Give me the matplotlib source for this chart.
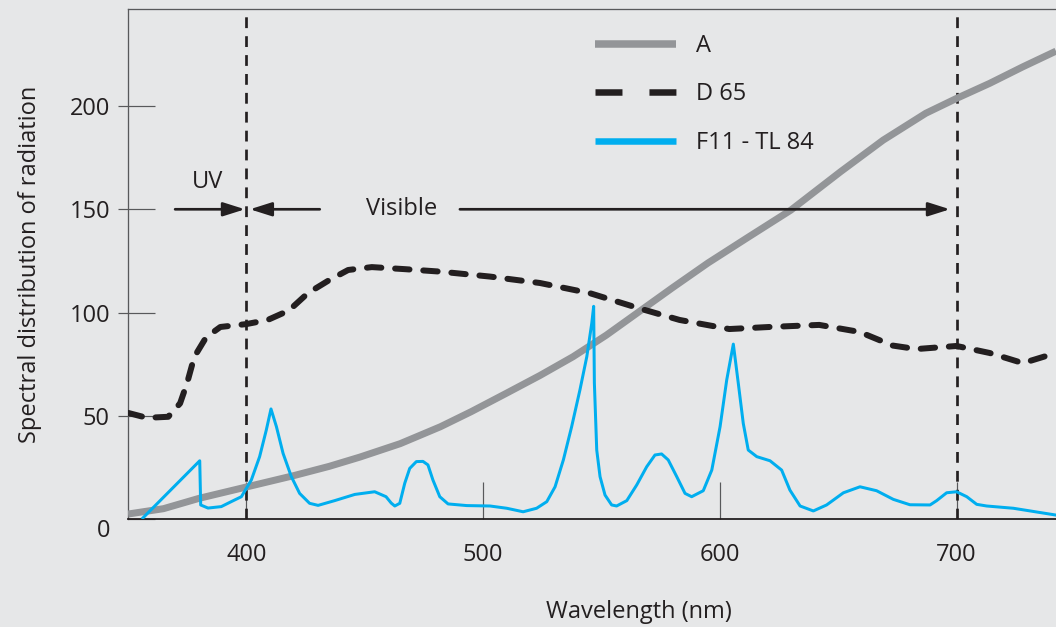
import matplotlib.pyplot as plt
from matplotlib.lines import Line2D
from matplotlib.patches import FancyArrowPatch
from matplotlib.ticker import FixedLocator
from matplotlib.transforms import ScaledTranslation

plt.rcParams['font.family'] = ['Open Sans', 'DejaVu Sans']

# Illuminant A (incandescent)
a_wl = [350, 365, 380, 400, 420, 435, 448, 465, 482, 495, 510, 524, 538, 552, 566,
        580, 595, 612, 630, 651, 669, 687, 700, 714, 728, 742]
a_val = [2.4, 5, 10, 15.5, 21, 25.5, 30, 36.5, 44.7, 52, 61, 69.5, 78.6, 89, 100.5,
         112, 124, 136.5, 149.6, 168.2, 183.5, 196.5, 203.7, 211, 219, 226.6]

# Illuminant D65 (daylight)
d_wl = [350, 358, 367, 372, 375, 378, 383, 389, 400, 409, 418, 426, 435, 443, 453, 467,
        482, 503, 524, 545, 566, 583, 604, 621, 642, 659, 673, 683, 700, 714, 728, 742]
d_val = [51.4, 49, 49.5, 56, 66, 78.5, 88, 93, 94.4, 96.4, 101, 109.4, 115.7, 120.6, 122, 121,
         119.8, 117.4, 114.3, 109.4, 102, 96.4, 92, 93, 94, 90.6, 84, 82.3, 83.8, 80.4, 75.5, 80.4]

# F11 - TL 84 (fluorescent)
f_wl = [356.3, 380.3, 380.7, 383.8, 389.4, 393.6, 397.9, 402.1, 405.6, 408.4, 410.4, 412.7,
        415.5, 419, 422.5, 426.7, 430.3, 437.3, 445.8, 454.2, 459, 461.2, 462.7, 464.8, 466.9,
        469, 471.8, 474.6, 476.7, 478.8, 481.7, 485.2, 493.1, 502.9, 510, 516.9, 522.6, 526.9,
        530.4, 533.9, 537.4, 540.9, 543.8, 545.9, 546.7, 547, 548, 549.4, 551.5, 554.3, 556.4,
        560.7, 564.9, 569.1, 572.6, 575.4, 578.2, 581.8, 585.3, 588.1, 593, 596.6, 600.1, 602.9,
        605.7, 607.8, 609.9, 612, 615.6, 621.2, 626.1, 629.6, 633.9, 639.5, 645.1, 652.2, 659.2,
        666.2, 673.3, 680.3, 688.8, 691.6, 695.8, 700, 704.3, 708.5, 712.7, 724, 742]
f_val = [0.5, 28.2, 6.8, 5.3, 6, 8.4, 10.8, 18.9, 30.2, 43, 53.3, 44.7,
         31.8, 20.5, 12.4, 7.6, 6.6, 8.9, 11.9, 13.2, 10.8, 7.7, 6.3, 7.6, 17.3,
         24.5, 27.8, 27.9, 26.2, 18.9, 10.8, 7.3, 6.5, 6.3, 5.2, 3.5, 5.2, 8.4,
         15.6, 28.6, 44.7, 62.5, 78.6, 94.8, 103, 65.9, 33.4, 20.5, 11.6, 6.8, 6.3,
         8.9, 16.5, 25.3, 31, 31.5, 28.6, 20.5, 12.4, 10.8, 13.7, 23.7, 44.7, 67.3,
         84.7, 65.7, 46.3, 33.4, 30.2, 28.2, 23.7, 14, 6.3, 3.9, 6.8, 12.7, 15.6,
         13.7, 9.5, 6.9, 6.8, 8.9, 12.7, 13.2, 10.8, 7.1, 6.3, 5.2, 1.9]

x_ticks = [400, 500, 600, 700]
y_ticks = [0, 50, 100, 150, 200]
uv_edge, vis_edge = 400, 700

bg = '#e6e7e8'
black = '#231f20'
grey = '#939598'
blue = '#00aeef'
px = 72 / 100  # one pixel in points

fig = plt.figure(figsize=(10.56, 6.27), dpi=100, facecolor=bg)
ax = fig.add_axes([128 / 1056, 108 / 627, 928 / 1056, 510 / 627])
ax.set_facecolor(bg)

ax.plot(a_wl, a_val, color=grey, lw=7 * px, solid_capstyle='butt', zorder=3)
ax.plot(d_wl, d_val, color=black, lw=6 * px, dashes=(2.4, 2.3),
        dash_capstyle='round', zorder=4)
ax.plot(f_wl, f_val, color=blue, lw=3 * px, solid_joinstyle='round', zorder=5)

# UV / visible boundaries
for xv in (uv_edge, vis_edge):
    ax.axvline(xv, color=black, lw=2.7 * px, dashes=(4, 3), zorder=2)

# arrows
arr = dict(arrowstyle='-|>,head_length=0.6,head_width=0.19', color=black,
           lw=2.7 * px, mutation_scale=22, shrinkA=0, shrinkB=0, zorder=6)
ax.add_patch(FancyArrowPatch((369.9, 150), (uv_edge - 0.6, 150), **arr))
ax.add_patch(FancyArrowPatch((431, 150), (uv_edge + 1.5, 150), **arr))
ax.add_patch(FancyArrowPatch((490.2, 150), (vis_edge - 2.8, 150), **arr))
ax.text(383.4, 163, 'UV', ha='center', va='center', fontsize=17, color=black)
ax.text(465.7, 150, 'Visible', ha='center', va='center', fontsize=17, color=black)

ax.set_xlim(350, 742)
ax.set_ylim(0, 247)

ax.spines['right'].set_visible(False)
for s in ('left', 'top'):
    ax.spines[s].set_color('#58595b')
    ax.spines[s].set_linewidth(1.3 * px)
ax.spines['bottom'].set_color(black)
ax.spines['bottom'].set_linewidth(1.8 * px)

ax.set_xticks(x_ticks)
ax.set_xticklabels([str(t) for t in x_ticks])
ax.set_yticks(y_ticks)
ax.set_yticklabels([str(t) for t in y_ticks])
ax.tick_params(axis='x', direction='in', length=37 * px, width=1.2 * px, color='#58595b',
               pad=17, labelsize=17, labelcolor=black)
ax.tick_params(axis='y', direction='in', length=27 * px, width=1.2 * px, color='#58595b',
               pad=13, labelsize=17, labelcolor=black)
# outward stubs of the y ticks
ax.yaxis.remove_overlapping_locs = False
ax.yaxis.set_minor_locator(FixedLocator(y_ticks[1:]))
ax.tick_params(axis='y', which='minor', direction='out', length=10 * px, width=1.2 * px,
               color='#58595b')

# the "0" label sits a little lower than the axis line
for lab in ax.get_yticklabels():
    if lab.get_text() == '0':
        lab.set_transform(lab.get_transform() + ScaledTranslation(0, -9 / 100, fig.dpi_scale_trans))

ax.set_xlabel('Wavelength (nm)', fontsize=17, color=black, labelpad=24, x=0.551)
ax.set_ylabel('Spectral distribution of radiation', fontsize=17, color=black, labelpad=20)

handles = [
    Line2D([], [], color=grey, lw=7.5 * px, solid_capstyle='butt'),
    Line2D([], [], color=black, lw=6.5 * px, dashes=(4.15, 4.15), dash_capstyle='butt'),
    Line2D([], [], color=blue, lw=6.5 * px, solid_capstyle='butt'),
]
ax.legend(handles, ['A', 'D 65', 'F11 - TL 84'], loc='upper left',
          bbox_to_anchor=((583 - 128) / 928, (519 - 22) / 510), frameon=False,
          borderpad=0, handlelength=3.43, handletextpad=0.85, labelspacing=1.04,
          fontsize=17, labelcolor=black)

fig.savefig('out.png', dpi=100, facecolor=bg)
